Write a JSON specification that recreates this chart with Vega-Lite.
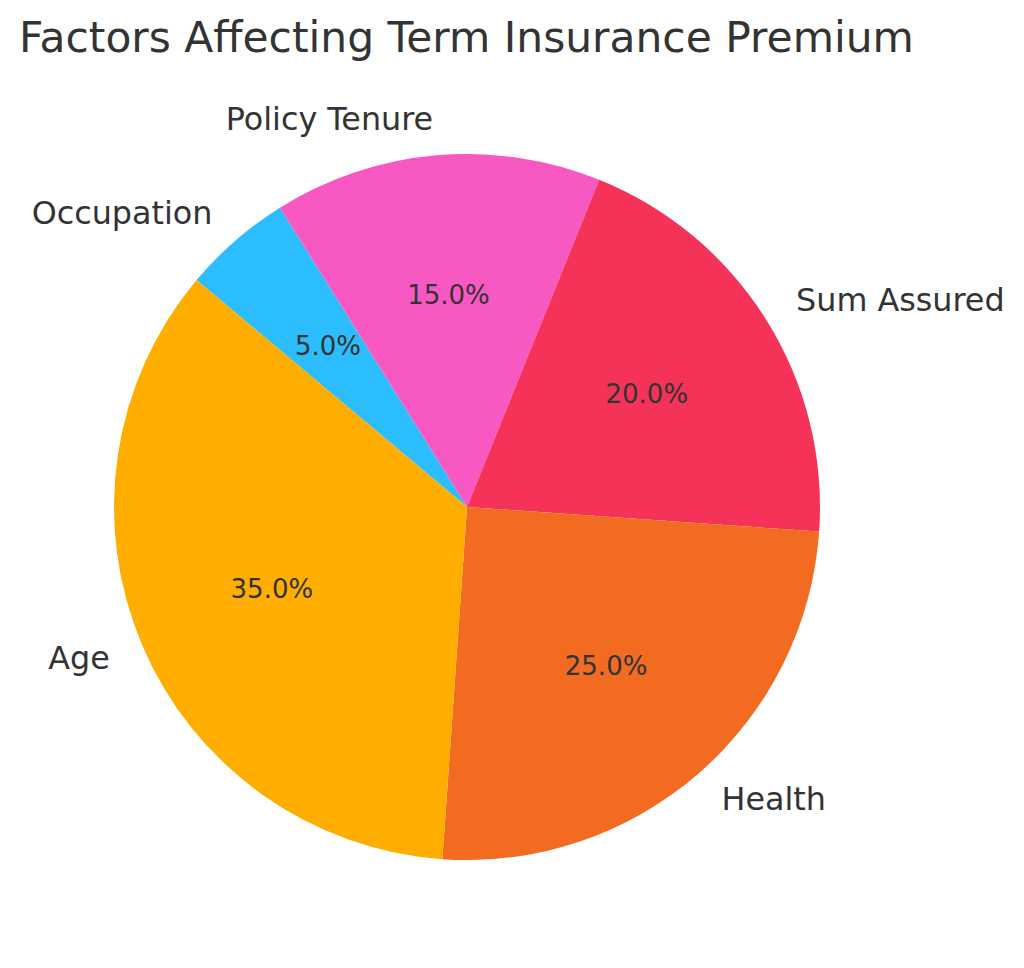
{
  "$schema": "https://vega.github.io/schema/vega-lite/v6.json",
  "autosize": {"type": "none"},
  "width": 934,
  "height": 874,
  "padding": {"left": 0, "top": 70, "right": 90, "bottom": 24},
  "background": "white",
  "title": {
    "text": "Factors Affecting Term Insurance Premium",
    "anchor": "start",
    "frame": "group",
    "font": "DejaVu Sans",
    "fontSize": 42.4,
    "fontWeight": "normal",
    "color": "#333333",
    "baseline": "alphabetic",
    "offset": 18,
    "dx": 19,
    "dy": 42
  },
  "data": {
    "values": [
      {"factor": "Occupation", "share": 0.05, "rank": 1},
      {"factor": "Policy Tenure", "share": 0.15, "rank": 2},
      {"factor": "Sum Assured", "share": 0.20, "rank": 3},
      {"factor": "Health", "share": 0.25, "rank": 4},
      {"factor": "Age", "share": 0.35, "rank": 5}
    ]
  },
  "encoding": {
    "theta": {"field": "share", "type": "quantitative", "stack": true, "scale": {"range": [5.41052, 11.69371]}},
    "order": {"field": "rank", "type": "quantitative"}
  },
  "layer": [
    {
      "mark": {"type": "arc", "outerRadius": 353, "stroke": null},
      "encoding": {
        "color": {
          "field": "factor",
          "type": "nominal",
          "legend": null,
          "scale": {
            "domain": ["Occupation", "Policy Tenure", "Sum Assured", "Health", "Age"],
            "range": ["#2BBDFD", "#F858C2", "#F53257", "#F26B21", "#FFAE00"]
          }
        }
      }
    },
    {
      "mark": {"type": "text", "radius": 388, "align": "left", "baseline": "middle", "font": "DejaVu Sans", "fontSize": 31.8, "color": "#333333"},
      "encoding": {
        "text": {"condition": {"test": "datum.factor == 'Sum Assured' || datum.factor == 'Health'", "field": "factor"}, "value": ""}
      }
    },
    {
      "mark": {"type": "text", "radius": 388, "align": "right", "baseline": "middle", "font": "DejaVu Sans", "fontSize": 31.8, "color": "#333333"},
      "encoding": {
        "text": {"condition": {"test": "datum.factor != 'Sum Assured' && datum.factor != 'Health'", "field": "factor"}, "value": ""}
      }
    },
    {
      "mark": {"type": "text", "radius": 212, "align": "center", "baseline": "middle", "font": "DejaVu Sans", "fontSize": 26, "color": "#333333"},
      "encoding": {
        "text": {"field": "share", "type": "quantitative", "format": ".1%"}
      }
    }
  ],
  "config": {"view": {"stroke": null}}
}
